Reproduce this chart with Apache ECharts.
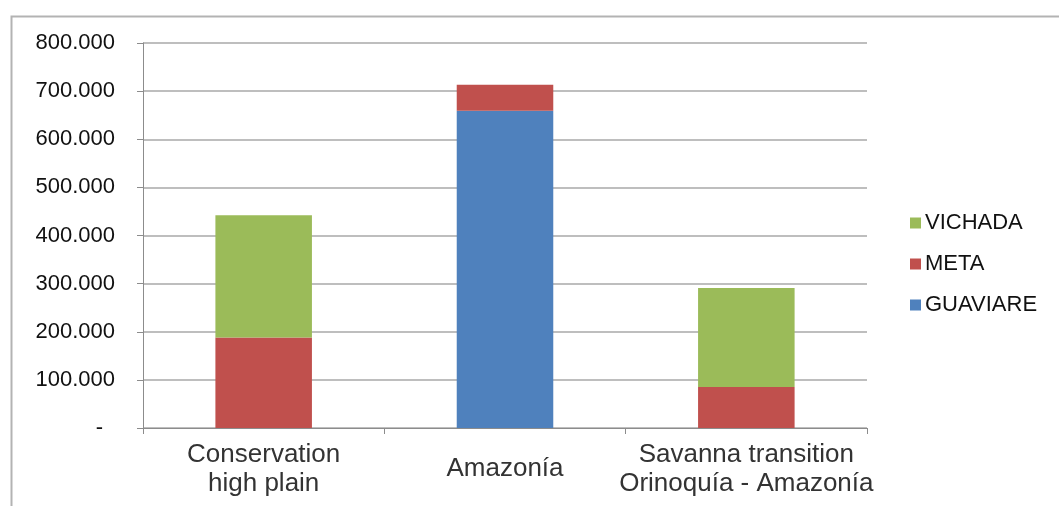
<!DOCTYPE html>
<html>
<head>
<meta charset="utf-8">
<script src="https://cdn.jsdelivr.net/npm/echarts@6/dist/echarts.min.js"></script>
<style>
  html, body { margin: 0; padding: 0; background: #fff; }
  #chart { width: 1059px; height: 506px; }
</style>
</head>
<body>
<div id="chart"></div>
<script>
// Area by land-use zone, split by department
const categories = ['Conservation\nhigh plain', 'Amazonía', 'Savanna transition\nOrinoquía - Amazonía'];
const guaviare = [0, 659000, 0];
const meta = [188000, 54000, 85000];
const vichada = [254000, 0, 206000];
const legendOrder = ['VICHADA', 'META', 'GUAVIARE'];

const FONT = 'Liberation Sans, Arial, sans-serif';

// Thousands with a dot separator; zero shown as a dash
function fmtTick(v) {
  if (v === 0) return '{dash|-}';
  return Math.round(v / 1000) + '.000';
}

const chart = echarts.init(document.getElementById('chart'), null, { renderer: 'canvas' });

const barBase = { type: 'bar', stack: 'area', barWidth: '40%' };

chart.setOption({
  animation: false,
  backgroundColor: '#ffffff',
  textStyle: { fontFamily: FONT },
  graphic: [{
    type: 'rect',
    left: 9, top: 14,
    shape: { x: 0, y: 0, width: 1200, height: 700 },
    style: { fill: 'none', stroke: '#b3b3b3', lineWidth: 2 },
    silent: true
  }],
  grid: { left: 143, right: 192, top: 43, bottom: 78 },
  legend: {
    data: legendOrder,
    orient: 'vertical',
    left: 905,
    top: 207,
    itemWidth: 11,
    itemHeight: 11,
    itemGap: 19,
    icon: 'rect',
    textStyle: { fontFamily: FONT, fontSize: 22, color: '#111', padding: [0, 0, 0, -1] }
  },
  xAxis: {
    type: 'category',
    data: categories,
    axisLine: { lineStyle: { color: '#8c8c8c', width: 1 } },
    axisTick: { show: true, length: 6, lineStyle: { color: '#8c8c8c' } },
    axisLabel: {
      interval: 0,
      margin: 41,
      verticalAlign: 'middle',
      fontFamily: FONT,
      fontSize: 26,
      lineHeight: 29,
      color: '#333'
    }
  },
  yAxis: {
    type: 'value',
    min: 0,
    max: 800000,
    interval: 100000,
    axisLine: { show: true, lineStyle: { color: '#8c8c8c', width: 1 } },
    axisTick: { show: true, length: 6, lineStyle: { color: '#8c8c8c' } },
    splitLine: { lineStyle: { color: '#a8a8a8', width: 1.5 } },
    axisLabel: {
      margin: 28,
      fontFamily: FONT,
      fontSize: 22,
      color: '#111',
      formatter: fmtTick,
      rich: { dash: { fontFamily: FONT, fontSize: 22, color: '#111', padding: [0, 12, 0, 0] } }
    }
  },
  series: [
    Object.assign({}, barBase, { name: 'GUAVIARE', data: guaviare, itemStyle: { color: '#4f81bd' } }),
    Object.assign({}, barBase, { name: 'META', data: meta, itemStyle: { color: '#c0504d' } }),
    Object.assign({}, barBase, { name: 'VICHADA', data: vichada, itemStyle: { color: '#9bbb59' } })
  ]
});
</script>
</body>
</html>
